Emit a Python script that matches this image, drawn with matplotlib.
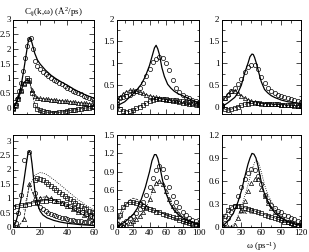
import numpy as np
import matplotlib
matplotlib.use("Agg")
import matplotlib.pyplot as plt
from matplotlib.ticker import MultipleLocator

plt.rcParams['font.family'] = ['Liberation Serif', 'DejaVu Serif']
plt.rcParams['font.size'] = 6.5
plt.rcParams['mathtext.fontset'] = 'custom'
plt.rcParams['mathtext.rm'] = 'Liberation Serif'
plt.rcParams['mathtext.it'] = 'Liberation Serif'

# ---- top left (x 0..60) ----
a1_xl = [0, 2, 4, 6, 8, 10, 11, 12, 13, 14, 16, 18, 20, 24, 28, 32, 36, 40, 45, 50, 55, 60]
a1_solid = [0, 0.1, 0.35, 0.75, 1.3, 1.9, 2.2, 2.37, 2.35, 2.2, 1.85, 1.62, 1.48, 1.27, 1.1, 0.97, 0.86, 0.76, 0.62, 0.5, 0.4, 0.31]
a1_xc = [0, 1.5, 3, 4.5, 6, 7.5, 9, 10.5, 12, 13, 14.5, 16, 18, 20, 22, 24, 26, 28, 30, 32, 34, 36,
         38, 40, 42, 44, 46, 48, 50, 52, 54, 56, 58, 60]
a1_circ = [0.0, 0.1, 0.3, 0.55, 0.85, 1.25, 1.7, 2.1, 2.35, 2.38, 1.98, 1.6, 1.42, 1.3, 1.22, 1.14,
           1.07, 1.0, 0.95, 0.89, 0.84, 0.79, 0.73, 0.68, 0.63, 0.58, 0.54, 0.49, 0.45, 0.41, 0.37,
           0.33, 0.29, 0.25]
a1_xm = list(range(0, 61, 2))
a1_tri = [0.0, 0.15, 0.4, 0.6, 0.82, 0.95, 0.9, 0.6, 0.38, 0.33, 0.31, 0.3, 0.29, 0.28, 0.27, 0.26,
          0.25, 0.24, 0.23, 0.22, 0.21, 0.2, 0.19, 0.18, 0.17, 0.16, 0.15, 0.14, 0.13, 0.12, 0.11]
a1_sq = [-0.05, 0.1, 0.3, 0.55, 0.8, 1.0, 0.95, 0.5, 0.1, -0.05, -0.1, -0.13, -0.15, -0.16, -0.17,
         -0.17, -0.17, -0.16, -0.15, -0.14, -0.12, -0.1, -0.09, -0.07, -0.06, -0.04, -0.03, -0.01,
         0.0, 0.02, 0.03]

# ---- top middle (x 0..100) ----
b1_xl = [0, 10, 20, 25, 30, 35, 40, 43, 46, 48, 50, 52, 55, 58, 62, 66, 70, 75, 80, 90, 100]
b1_solid = [0.02, 0.12, 0.3, 0.4, 0.52, 0.7, 0.95, 1.15, 1.35, 1.41, 1.33, 1.2, 0.9, 0.7, 0.52,
            0.43, 0.36, 0.3, 0.26, 0.17, 0.09]
b1_xm = list(range(0, 101, 4))
b1_circ = [0.15, 0.2, 0.22, 0.25, 0.28, 0.31, 0.36, 0.44, 0.55, 0.7, 0.86, 1.02, 1.1, 1.15, 1.12,
           1.0, 0.85, 0.62, 0.44, 0.34, 0.28, 0.24, 0.2, 0.17, 0.14, 0.12]
b1_tri = [0.12, 0.22, 0.3, 0.35, 0.38, 0.38, 0.36, 0.34, 0.31, 0.28, 0.26, 0.24, 0.22, 0.2, 0.18,
          0.17, 0.15, 0.14, 0.13, 0.12, 0.1, 0.09, 0.08, 0.07, 0.06, 0.05]
b1_sq = [0.08, -0.05, -0.1, -0.11, -0.1, -0.07, -0.03, 0.01, 0.05, 0.09, 0.13, 0.16, 0.18, 0.19,
         0.19, 0.18, 0.17, 0.16, 0.15, 0.14, 0.13, 0.12, 0.11, 0.1, 0.09, 0.08]

# ---- top right (x 0..120) ----
c1_xl = [0, 10, 20, 25, 30, 35, 40, 43, 46, 48, 50, 53, 56, 60, 65, 70, 75, 80, 90, 100, 110, 120]
c1_solid = [0.0, 0.1, 0.22, 0.33, 0.5, 0.78, 1.0, 1.15, 1.21, 1.2, 1.13, 0.98, 0.8, 0.58, 0.4,
            0.32, 0.26, 0.22, 0.16, 0.12, 0.1, 0.08]
c1_xm = list(range(0, 121, 5))
c1_circ = [0.05, 0.2, 0.28, 0.36, 0.44, 0.52, 0.64, 0.8, 0.92, 0.97, 0.96, 0.88, 0.68, 0.54, 0.44,
           0.37, 0.32, 0.28, 0.25, 0.22, 0.2, 0.18, 0.16, 0.14, 0.12]
c1_tri = [0.08, 0.2, 0.3, 0.37, 0.37, 0.32, 0.26, 0.21, 0.17, 0.14, 0.12, 0.1, 0.09, 0.08, 0.07,
          0.07, 0.06, 0.06, 0.05, 0.05, 0.04, 0.04, 0.03, 0.03, 0.03]
c1_sq = [0.02, -0.05, -0.07, -0.05, -0.02, 0.01, 0.04, 0.06, 0.08, 0.09, 0.09, 0.09, 0.08, 0.08,
         0.07, 0.07, 0.06, 0.06, 0.05, 0.05, 0.04, 0.04, 0.04, 0.03, 0.03]

# ---- bottom left (x 0..60) ----
a2_xl = [0, 2, 4, 6, 8, 10, 11, 12, 13, 14, 15, 16, 18, 20, 22, 25, 30, 35, 40, 50, 60]
a2_solid = [0, 0.15, 0.5, 1.0, 1.6, 2.25, 2.55, 2.65, 2.55, 2.2, 1.75, 1.3, 0.8, 0.55, 0.42, 0.32,
            0.23, 0.17, 0.13, 0.08, 0.05]
a2_xc = [0, 2, 4, 6, 8, 12, 16, 18, 20, 22, 24, 26, 28, 30, 32, 34, 36, 38, 40, 42, 44, 46, 48,
         50, 52, 54, 56, 58, 60]
a2_circ = [0.02, 0.15, 0.5, 1.1, 2.33, 2.6, 1.2, 0.85, 0.7, 0.62, 0.56, 0.5, 0.46, 0.42, 0.38,
           0.35, 0.32, 0.3, 0.28, 0.26, 0.24, 0.22, 0.21, 0.2, 0.18, 0.17, 0.16, 0.15, 0.14]
a2_xu = list(range(16, 61, 2))
a2_up = [1.62, 1.7, 1.68, 1.63, 1.57, 1.5, 1.43, 1.36, 1.29, 1.22, 1.15, 1.08, 1.02, 0.96, 0.9,
         0.84, 0.78, 0.72, 0.67, 0.62, 0.57, 0.52, 0.48]
a2_xdot = [8, 12, 16, 20, 24, 30, 36, 42, 48, 54, 60]
a2_dot = [0.6, 1.4, 1.8, 1.9, 1.85, 1.65, 1.42, 1.18, 0.95, 0.75, 0.58]
a2_xt = [0, 4, 8, 12, 16, 20, 24, 28, 32, 36, 40, 44, 48, 52, 56, 60]
a2_tri = [0.0, 0.02, 0.27, 1.5, 1.0, 1.02, 1.05, 1.0, 0.92, 0.82, 0.72, 0.62, 0.52, 0.43, 0.34, 0.26]
a2_xs = list(range(0, 61, 3))
a2_sq = [0.7, 0.72, 0.75, 0.78, 0.81, 0.84, 0.87, 0.9, 0.92, 0.93, 0.92, 0.89, 0.85, 0.8, 0.74,
         0.67, 0.6, 0.52, 0.45, 0.39, 0.34]

# ---- bottom middle (x 0..100) ----
b2_xl = [0, 10, 20, 25, 30, 35, 40, 43, 46, 48, 50, 53, 56, 60, 65, 70, 75, 80, 90, 100]
b2_solid = [0.0, 0.08, 0.2, 0.3, 0.45, 0.65, 0.9, 1.08, 1.18, 1.18, 1.12, 0.95, 0.75, 0.55, 0.38,
            0.27, 0.2, 0.15, 0.09, 0.05]
b2_xm = list(range(0, 101, 4))
b2_circ = [0.0, 0.03, 0.06, 0.1, 0.14, 0.18, 0.23, 0.3, 0.4, 0.52, 0.65, 0.8, 0.93, 1.0, 0.95,
           0.82, 0.65, 0.5, 0.4, 0.32, 0.25, 0.2, 0.15, 0.12, 0.09, 0.06]
b2_tri = [0.0, 0.01, 0.02, 0.04, 0.06, 0.09, 0.13, 0.18, 0.24, 0.32, 0.45, 0.6, 0.72, 0.75, 0.7,
          0.58, 0.45, 0.35, 0.27, 0.21, 0.16, 0.12, 0.09, 0.07, 0.05, 0.04]
b2_sq = [0.05, 0.2, 0.33, 0.38, 0.4, 0.4, 0.39, 0.37, 0.34, 0.31, 0.29, 0.27, 0.25, 0.24, 0.22,
         0.2, 0.18, 0.16, 0.14, 0.12, 0.1, 0.08, 0.07, 0.05, 0.04, 0.03]
b2_xd = [0, 5, 10, 15, 20, 25, 30, 40, 50, 60, 70, 80, 90, 100]
b2_dash = [0.0, 0.15, 0.32, 0.43, 0.47, 0.45, 0.4, 0.32, 0.26, 0.2, 0.14, 0.09, 0.05, 0.03]

# ---- bottom right (x 0..120) ----
c2_xl = [0, 10, 18, 25, 30, 35, 40, 43, 46, 49, 52, 55, 58, 61, 65, 70, 75, 80, 90, 100, 110, 120]
c2_solid = [0, 0.08, 0.18, 0.33, 0.47, 0.65, 0.82, 0.9, 0.96, 0.95, 0.9, 0.8, 0.67, 0.55, 0.43,
            0.33, 0.25, 0.19, 0.12, 0.07, 0.04, 0.02]
c2_xm = list(range(0, 121, 5))
c2_circ = [0.0, 0.05, 0.12, 0.2, 0.28, 0.4, 0.52, 0.62, 0.7, 0.76, 0.74, 0.66, 0.56, 0.42, 0.34,
           0.29, 0.25, 0.21, 0.19, 0.16, 0.14, 0.12, 0.1, 0.08, 0.07]
c2_tri = [0.0, 0.0, 0.0, 0.0, 0.03, 0.12, 0.22, 0.34, 0.47, 0.58, 0.62, 0.62, 0.5, 0.4, 0.31, 0.25,
          0.2, 0.16, 0.12, 0.09, 0.07, 0.05, 0.04, 0.03, 0.02]
c2_xdot = [15, 20, 30, 40, 45, 50, 53, 56, 60, 65, 70, 80, 90, 100, 110, 120]
c2_dot = [0.0, 0.05, 0.25, 0.55, 0.72, 0.84, 0.87, 0.84, 0.72, 0.55, 0.42, 0.25, 0.15, 0.09, 0.05, 0.03]
c2_sq = [0.0, 0.15, 0.22, 0.26, 0.28, 0.28, 0.27, 0.25, 0.24, 0.22, 0.21, 0.19, 0.18, 0.16, 0.15,
         0.13, 0.12, 0.1, 0.09, 0.07, 0.06, 0.05, 0.04, 0.03, 0.02]

W, H = 309, 252
fig = plt.figure(figsize=(W / 100, H / 100), dpi=100)


def make_ax(l, t, w, h):
    return fig.add_axes([l / W, 1 - (t + h) / H, w / W, h / H])


mk = dict(ls='none', mfc='none', mec='black', mew=0.5, ms=3)


def style(ax, xlim, ylim, xmaj, xmin, ymaj, ymin, xlabels=True):
    ax.set_xlim(*xlim)
    ax.set_ylim(*ylim)
    ax.xaxis.set_major_locator(MultipleLocator(xmaj))
    ax.xaxis.set_minor_locator(MultipleLocator(xmin))
    ax.yaxis.set_major_locator(MultipleLocator(ymaj))
    ax.yaxis.set_minor_locator(MultipleLocator(ymin))
    ax.tick_params(which='both', direction='in', top=True, right=True, width=0.5, pad=1.5,
                   labelsize=6.5)
    ax.tick_params(which='major', length=3.5)
    ax.tick_params(which='minor', length=1.8)
    if not xlabels:
        ax.tick_params(labelbottom=False)
    for s in ax.spines.values():
        s.set_linewidth(0.7)
    ax.yaxis.set_major_formatter(plt.FuncFormatter(lambda v, p: ('%g' % round(v, 2))))


# top row
ax = make_ax(13, 19.5, 81.5, 94.5)
ax.plot(a1_xl, a1_solid, 'k-', lw=0.9)
ax.plot(a1_xc, a1_circ, marker='o', **mk)
ax.plot(a1_xm, a1_tri, 'k-', lw=0.4)
ax.plot(a1_xm, a1_tri, marker='^', **mk)
ax.plot(a1_xm, a1_sq, 'k--', lw=0.5)
ax.plot(a1_xm, a1_sq, marker='s', **mk)
style(ax, (0, 60), (-0.22, 3), 20, 10, 0.5, 0.25, xlabels=False)
ax.set_title('C$_{ij}$(k,ω) (Å$^2$/ps)', fontsize=6.5, pad=4)

ax = make_ax(116.5, 19.5, 82.5, 94.5)
ax.plot(b1_xl, b1_solid, 'k-', lw=0.9)
ax.plot(b1_xm, b1_circ, marker='o', **mk)
ax.plot(b1_xm, b1_tri, 'k-', lw=0.4)
ax.plot(b1_xm, b1_tri, marker='^', **mk)
ax.plot(b1_xm, b1_sq, 'k--', lw=0.5)
ax.plot(b1_xm, b1_sq, marker='s', **mk)
style(ax, (0, 100), (-0.16, 2), 20, 10, 0.5, 0.25, xlabels=False)

ax = make_ax(221.5, 19.5, 79.5, 94.5)
ax.plot(c1_xl, c1_solid, 'k-', lw=0.9)
ax.plot(c1_xm, c1_circ, marker='o', **mk)
ax.plot(c1_xm, c1_tri, 'k-', lw=0.4)
ax.plot(c1_xm, c1_tri, marker='^', **mk)
ax.plot(c1_xm, c1_sq, 'k--', lw=0.5)
ax.plot(c1_xm, c1_sq, marker='s', **mk)
style(ax, (0, 120), (-0.16, 2), 30, 15, 0.5, 0.25, xlabels=False)

# bottom row
ax = make_ax(13, 135, 81.5, 92)
ax.plot(a2_xl, a2_solid, 'k-', lw=0.9)
ax.plot(a2_xc, a2_circ, marker='o', **mk)
ax.plot(a2_xdot, a2_dot, 'k:', lw=0.6)
ax.plot(a2_xu, a2_up, marker='s', **mk)
ax.plot(a2_xt, a2_tri, 'k--', lw=0.5)
ax.plot(a2_xt, a2_tri, marker='^', **mk)
ax.plot(a2_xs, a2_sq, 'k-', lw=0.4)
ax.plot(a2_xs, a2_sq, marker='s', **mk)
style(ax, (0, 60), (0, 3.2), 20, 10, 0.5, 0.25)

ax = make_ax(116.5, 135, 82.5, 92)
ax.plot(b2_xl, b2_solid, 'k-', lw=0.9)
ax.plot(b2_xm, b2_circ, marker='o', **mk)
ax.plot(b2_xm, b2_tri, 'k:', lw=0.6)
ax.plot(b2_xm, b2_tri, marker='^', **mk)
ax.plot(b2_xm, b2_sq, 'k-', lw=0.4)
ax.plot(b2_xm, b2_sq, marker='s', **mk)
ax.plot(b2_xd, b2_dash, 'k--', lw=0.5)
style(ax, (0, 100), (0, 1.5), 20, 10, 0.3, 0.15)

ax = make_ax(221.5, 135, 79.5, 92)
ax.plot(c2_xl, c2_solid, 'k-', lw=0.9)
ax.plot(c2_xm, c2_circ, marker='o', **mk)
ax.plot(c2_xdot, c2_dot, 'k:', lw=0.6)
ax.plot(c2_xm, c2_tri, marker='^', **mk)
ax.plot(c2_xm, c2_sq, 'k-', lw=0.4)
ax.plot(c2_xm, c2_sq, marker='s', **mk)
ax.text(26, 0.17, 'δx 3', fontsize=6)
style(ax, (0, 120), (0, 1.2), 30, 15, 0.3, 0.15)
ax.set_xlabel('ω (ps$^{-1}$)', fontsize=6.5, labelpad=2)

fig.savefig('out.png', dpi=100)
